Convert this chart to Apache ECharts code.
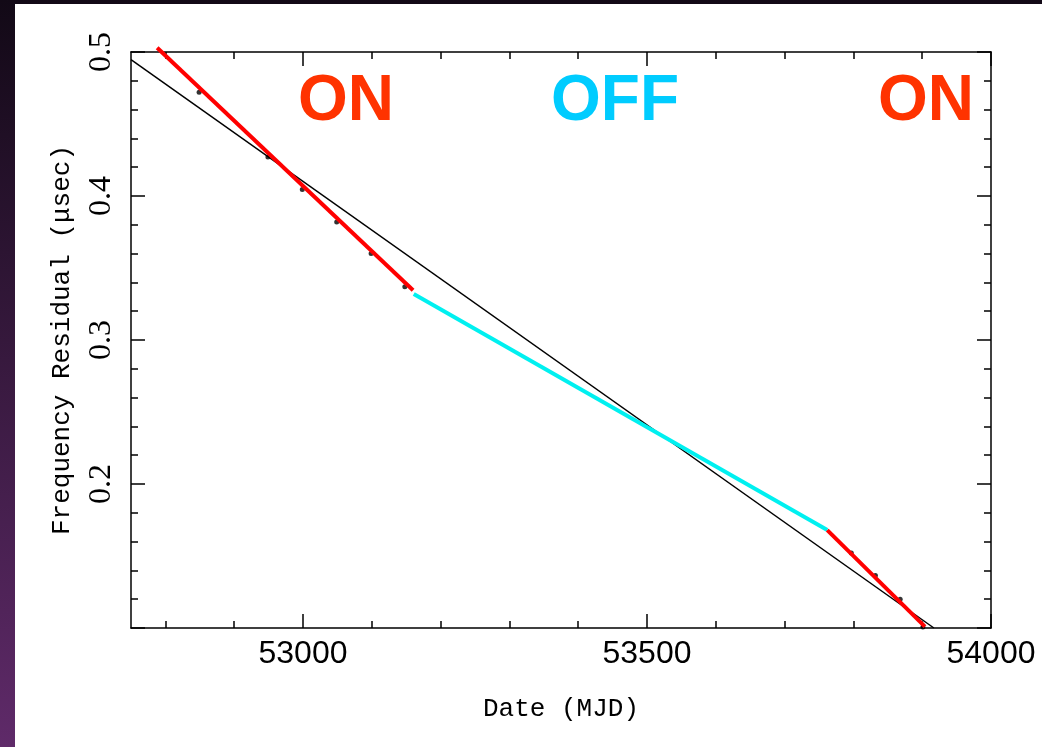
<!doctype html>
<html lang="en">
<head>
    <meta charset="UTF-8">
    <title>Frequency Residual</title>
    <script src="https://cdn.jsdelivr.net/npm/echarts@6/dist/echarts.min.js"></script>
    <style>
        html, body {
            margin: 0;
            width: 1042px;
            height: 747px;
            overflow: hidden;
            background: linear-gradient(to bottom, #120916, #5f2a69);
        }
        #main {
            position: absolute;
            left: 15px;
            top: 4px;
            width: 1027px;
            height: 743px;
            background: #fff;
        }
    </style>
</head>
<body>
<div id="main"></div>
<script>
    // tick positions
    var xMajor = [53000, 53500, 54000];
    var xMinor = [52800, 52900, 53100, 53200, 53300, 53400, 53600, 53700, 53800, 53900];
    var yMajor = [0.1, 0.2, 0.3, 0.4, 0.5];
    var yMinor = [0.12, 0.14, 0.16, 0.18, 0.22, 0.24, 0.26, 0.28, 0.32, 0.34, 0.36, 0.38, 0.42, 0.44, 0.46, 0.48];
    var yLabels = [0.2, 0.3, 0.4, 0.5];

    // fitted lines (MJD, residual)
    var overallFit = [[52750, 0.4947], [53917, 0.1]];
    var onFit1 = [[52788, 0.503], [53160, 0.3346]];
    var offFit = [[53161, 0.332], [53762, 0.168]];
    var onFit2 = [[53762, 0.168], [53904, 0.101]];
    // measured points
    var points = [
        [52849, 0.472], [52949, 0.427], [52999, 0.4045], [53049, 0.382], [53099, 0.360],
        [53148, 0.337], [53797, 0.152], [53832, 0.1365], [53868, 0.120], [53901, 0.1007]
    ];

    var X_MIN = 52750, X_MAX = 54000, Y_MIN = 0.1, Y_MAX = 0.5;
    var lineStyle = {color: '#000', width: 1.5};

    function xAxis(pos, ticks, len, main) {
        return {
            type: 'value', position: pos, min: X_MIN, max: X_MAX,
            axisLine: {show: main, lineStyle: lineStyle},
            axisTick: {inside: true, length: len, customValues: ticks, lineStyle: lineStyle},
            axisLabel: main && pos === 'bottom' ? {
                customValues: xMajor, margin: 10, color: '#000',
                fontFamily: 'Liberation Sans', fontSize: 32,
                formatter: function (v) { return String(v); }
            } : {show: false},
            splitLine: {show: false},
            name: main && pos === 'bottom' ? 'Date (MJD)' : '',
            nameLocation: 'middle', nameGap: 68,
            nameTextStyle: {fontFamily: 'Liberation Mono', fontSize: 26, color: '#000'}
        };
    }

    function yAxis(pos, ticks, len, main) {
        return {
            type: 'value', position: pos, min: Y_MIN, max: Y_MAX,
            axisLine: {show: main, lineStyle: lineStyle},
            axisTick: {inside: true, length: len, customValues: ticks, lineStyle: lineStyle},
            axisLabel: main && pos === 'left' ? {
                customValues: yLabels, rotate: 90, margin: 13, color: '#000',
                fontFamily: 'Liberation Serif', fontSize: 32,
                formatter: function (v) { return v.toFixed(1); }
            } : {show: false},
            splitLine: {show: false},
            name: main && pos === 'left' ? 'Frequency Residual (\u03bcsec)' : '',
            nameLocation: 'middle', nameGap: 56, nameRotate: 90,
            nameTextStyle: {fontFamily: 'Liberation Mono', fontSize: 26, color: '#000'}
        };
    }

    var myChart = echarts.init(document.getElementById('main'));
    var option = {
        animation: false,
        grid: {left: 116, top: 48, right: 51, bottom: 119},
        xAxis: [
            xAxis('bottom', xMajor, 14, true),
            xAxis('bottom', xMinor, 7, false),
            xAxis('top', xMajor, 14, true),
            xAxis('top', xMinor, 7, false)
        ],
        yAxis: [
            yAxis('left', yMajor, 14, true),
            yAxis('left', yMinor, 7, false),
            yAxis('right', yMajor, 14, true),
            yAxis('right', yMinor, 7, false)
        ],
        graphic: [
            {type: 'text', left: 283, top: 66, style: {text: 'ON', fill: '#ff3300', font: 'bold 64px "Liberation Sans"'}},
            {type: 'text', left: 536, top: 66, style: {text: 'OFF', fill: '#00ccff', font: 'bold 64px "Liberation Sans"'}},
            {type: 'text', left: 863, top: 66, style: {text: 'ON', fill: '#ff3300', font: 'bold 64px "Liberation Sans"'}}
        ],
        series: [
            {type: 'line', data: overallFit, symbol: 'none', z: 2,
                lineStyle: {color: '#000', width: 1.5}},
            {type: 'scatter', data: points, symbolSize: 5, z: 3,
                itemStyle: {color: '#000'}},
            {type: 'line', data: onFit1, symbol: 'none', clip: false, z: 4,
                lineStyle: {color: '#ff0000', width: 4}},
            {type: 'line', data: offFit, symbol: 'none', z: 4,
                lineStyle: {color: '#00f0f0', width: 4}},
            {type: 'line', data: onFit2, symbol: 'none', z: 4,
                lineStyle: {color: '#ff0000', width: 4}}
        ]
    };
    myChart.setOption(option);
</script>
</body>
</html>
